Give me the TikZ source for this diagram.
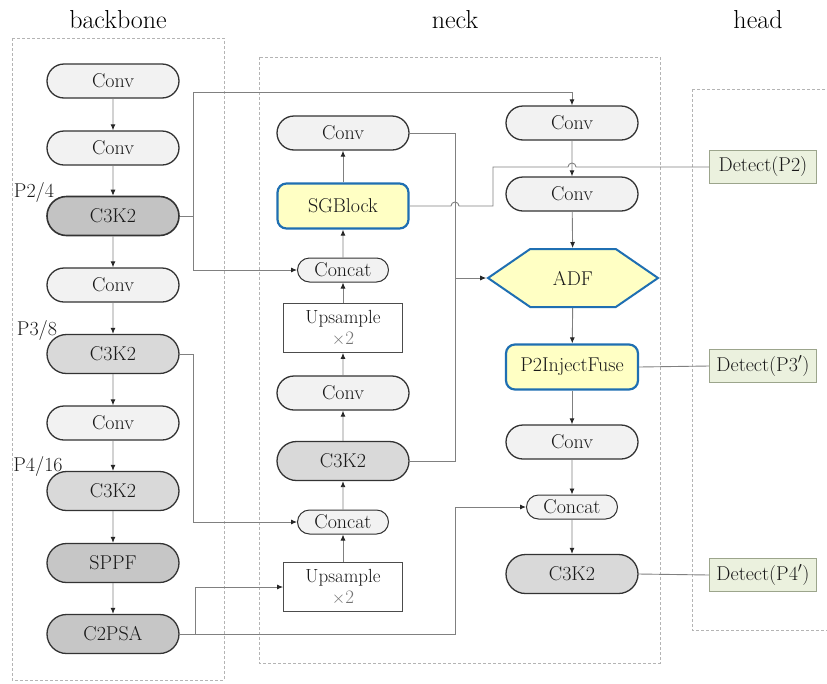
\documentclass[tikz,border=0pt]{standalone}
\usepackage{fontspec}
\usetikzlibrary{positioning,shapes.misc,shapes.symbols,arrows.meta}

\definecolor{convfill}{HTML}{F2F2F2}
\definecolor{cthree}{HTML}{D9D9D9}
\definecolor{cdark}{HTML}{C6C6C6}
\definecolor{hilite}{HTML}{FFFFC4}
\definecolor{hiliteline}{HTML}{1F6FB2}
\definecolor{detfill}{HTML}{EBF1DE}
\definecolor{detline}{HTML}{9CA58C}
\definecolor{wire}{HTML}{808080}
\definecolor{frame}{HTML}{B4B4B4}

\tikzset{
    boxtext/.style={text=black!90, font=\fontsize{20}{24}\selectfont},
    pill/.style={rounded rectangle, draw=black!80, line width=1.3pt, inner sep=0pt,
        minimum width=132pt, minimum height=34pt, boxtext},
    convbox/.style={pill, fill=convfill},
    c3box/.style={pill, fill=cthree, minimum height=39pt},
    darkbox/.style={pill, fill=cdark, minimum height=39pt},
    catbox/.style={pill, fill=convfill, minimum width=91pt, minimum height=24pt, line width=1pt},
    upbox/.style={rectangle, draw=black!70, line width=0.8pt, fill=white, inner sep=0pt,
        minimum width=119pt, minimum height=49pt, align=center, boxtext,
        font=\fontsize{19}{21}\selectfont},
    newbox/.style={rectangle, rounded corners=9pt, draw=hiliteline, line width=2.2pt, fill=hilite,
        inner sep=0pt, minimum width=131pt, minimum height=45pt, boxtext},
    detbox/.style={rectangle, draw=detline, line width=0.9pt, fill=detfill, inner sep=0pt,
        minimum width=107pt, minimum height=33pt, boxtext},
    group/.style={draw=frame, dashed, dash pattern=on 3pt off 2pt, line width=0.7pt},
    title/.style={font=\fontsize{26}{30}\selectfont},
    tag/.style={boxtext, inner sep=0pt},
    wire/.style={draw=wire, line width=0.9pt},
}

\begin{document}
\begin{tikzpicture}[x=1pt, y=-1pt, >={Latex[length=6pt,width=5pt,color=black!85]}]
    \useasboundingbox (0,0) rectangle (827,683);

    % stage frames and titles
    \draw[group] (12,38) rectangle (224,680);
    \draw[group] (259,57) rectangle (660,663);
    \draw[group] (692,89) rectangle (835,630);
    \node[title] (tback) at (118,20) {backbone};
    \node[title] (tneck) at (455,20) {neck};
    \node[title] (thead) at (758,20) {head};

    % backbone
    \node[convbox] (b1) at (113,81) {Conv};
    \node[convbox] (b2) at (113,148) {Conv};
    \node[c3box, fill=cthree!90!black, line width=1.6pt] (b3) at (113,216) {C3K2};
    \node[convbox] (b4) at (113,285) {Conv};
    \node[c3box] (b5) at (113,354) {C3K2};
    \node[convbox] (b6) at (113,423) {Conv};
    \node[c3box] (b7) at (113,491) {C3K2};
    \node[darkbox] (b8) at (113,563) {SPPF};
    \node[darkbox] (b9) at (113,634) {C2PSA};

    \node[tag] (p2) at (34,192) {P2/4};
    \node[tag] (p3) at (37,330) {P3/8};
    \node[tag] (p4) at (38,466) {P4/16};

    % neck, upward path
    \node[convbox] (n1) at (343,133) {Conv};
    \node[newbox] (n2) at (343,206) {SGBlock};
    \node[catbox] (n3) at (343,270) {Concat};
    \node[upbox] (n4) at (343,328) {Upsample\\{\color{black!55}$\times$2}};
    \node[convbox] (n5) at (343,393) {Conv};
    \node[c3box] (n6) at (343,461) {C3K2};
    \node[catbox] (n7) at (343,522) {Concat};
    \node[upbox] (n8) at (343,587) {Upsample\\{\color{black!55}$\times$2}};

    % neck, downward path
    \node[convbox] (r1) at (572,123) {Conv};
    \node[convbox] (r2) at (572,194) {Conv};
    \node[signal, signal to=west and east, signal pointer angle=69, draw=hiliteline,
        line width=2pt, fill=hilite, inner sep=0pt, minimum width=170pt, minimum height=58pt,
        boxtext] (r3) at (573,278) {ADF};
    \node[newbox, minimum width=132pt] (r4) at (572,367) {P2InjectFuse};
    \node[convbox] (r5) at (572,442) {Conv};
    \node[catbox] (r6) at (572,507) {Concat};
    \node[c3box] (r7) at (572,574) {C3K2};

    % head
    \node[detbox] (d2) at (763,167) {Detect(P2)};
    \node[detbox] (d3) at (763,366) {Detect(P3$'$)};
    \node[detbox] (d4) at (763,575) {Detect(P4$'$)};

    % straight links
    \foreach \from/\to in {b1/b2, b2/b3, b3/b4, b4/b5, b5/b6, b6/b7, b7/b8, b8/b9,
        n8/n7, n7/n6, n6/n5, n5/n4, n4/n3, n3/n2, n2/n1,
        r1/r2, r2/r3, r3/r4, r4/r5, r5/r6, r6/r7}
        \draw[wire, ->] (\from) -- (\to);

    % skip links from the backbone
    \coordinate (j1) at (193,216);
    \coordinate (j2) at (193,354);
    \coordinate (j3) at (195,634);
    \coordinate (j4) at (455,634);
    \coordinate (top) at (193,92);
    \draw[wire, ->] (b3.east) -- (j1) -- (top) -| (r1.north);
    \draw[wire, ->] (j1) |- (n3.west);
    \draw[wire, ->] (b5.east) -- (j2) |- (n7.west);
    \draw[wire, ->] (b9.east) -- (j3) |- (n8.west);
    \draw[wire, ->] (j3) -- (j4) |- (r6.west);

    % into ADF
    \coordinate (j5) at (455,133);
    \coordinate (j6) at (455,461);
    \coordinate (j7) at (455,278);
    \draw[wire] (n1.east) -- (j5) -- (j6) -- (n6.east);
    \draw[wire, ->] (j7) -- (r3.west);

    % SGBlock to the P2 head, with hops
    \draw[wire] (n2.east) -- (451,206) arc[start angle=180, end angle=360, radius=4]
        -- (493,206) -- (493,167) -- (568,167) arc[start angle=180, end angle=360, radius=4]
        -- (d2.west);

    % outputs to the head
    \draw[wire] (r4.east) -- (d3.west);
    \draw[wire] (r7.east) -- (d4.west);
\end{tikzpicture}
\end{document}
